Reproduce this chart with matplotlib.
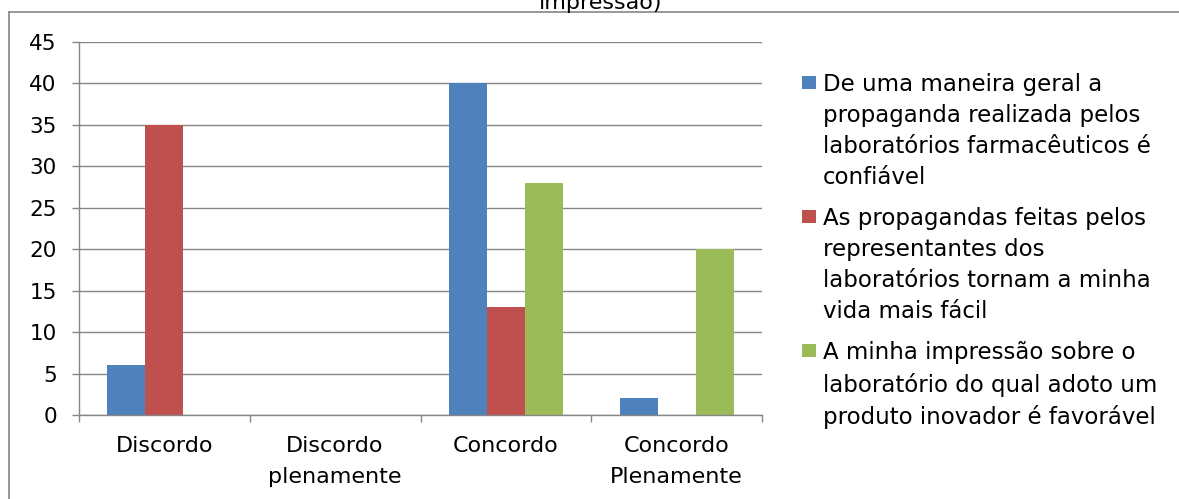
import matplotlib
matplotlib.use('Agg')
import matplotlib.pyplot as plt
import numpy as np
from matplotlib.patches import Rectangle
from matplotlib.lines import Line2D

categories = ['Discordo', 'Discordo\nplenamente', 'Concordo', 'Concordo\nPlenamente']
series_names = [
    'De uma maneira geral a\npropaganda realizada pelos\nlaboratórios farmacêuticos é\nconfiável',
    'As propagandas feitas pelos\nrepresentantes dos\nlaboratórios tornam a minha\nvida mais fácil',
    'A minha impressão sobre o\nlaboratório do qual adoto um\nproduto inovador é favorável',
]
serie_confiavel = [6, 0, 40, 2]
serie_facil = [35, 0, 13, 0]
serie_favoravel = [0, 0, 28, 20]
y_ticks = [0, 5, 10, 15, 20, 25, 30, 35, 40, 45]
title_fragment = 'impressão)'

colors = ['#4F81BD', '#C0504D', '#9BBB59']
grey = '#868686'

plt.rcParams['font.family'] = ['DejaVu Sans']

W, H = 1179, 499
fig = plt.figure(figsize=(W / 100, H / 100), dpi=100)
ax = fig.add_axes([79 / W, 1 - 415 / H, (762 - 79) / W, (415 - 42) / H])

x = np.arange(len(categories))
bw = 1 / 4.5
for i, vals in enumerate([serie_confiavel, serie_facil, serie_favoravel]):
    ax.bar(x + (i - 1) * bw, vals, bw, color=colors[i], linewidth=0, zorder=2)

ax.set_xlim(-0.5, len(categories) - 0.5)
ax.set_ylim(0, 45)
ax.set_yticks(y_ticks)
ax.set_xticks(x)
ax.set_xticklabels(categories, linespacing=1.7)
ax.set_xticks(np.arange(-0.5, len(categories), 1), minor=True)

ax.yaxis.grid(True, color=grey, linewidth=1.0, zorder=0)
ax.set_axisbelow(True)
for s in ['top', 'right']:
    ax.spines[s].set_visible(False)
for s in ['left', 'bottom']:
    ax.spines[s].set_color(grey)
    ax.spines[s].set_linewidth(1.0)

ax.tick_params(axis='y', length=5, width=1, color=grey, pad=11, labelsize=15.5)
ax.tick_params(axis='x', which='major', length=0, pad=15, labelsize=16)
ax.tick_params(axis='x', which='minor', length=5, width=1, color=grey)

# legend drawn manually (swatch aligned to first line)
baselines = [91, 225, 359]
for i, name in enumerate(series_names):
    yb = baselines[i]
    fig.add_artist(Rectangle((802 / W, 1 - (yb - 2) / H), 14 / W, 13 / H,
                             transform=fig.transFigure, color=colors[i], linewidth=0))
    fig.text(823 / W, 1 - (yb - 18) / H, name, ha='left', va='top', fontsize=16.5,
             linespacing=1.45)

# outer frame
fig.add_artist(Line2D([9.5 / W, 9.5 / W], [0, 1 - 12 / H], transform=fig.transFigure,
                      color=grey, linewidth=1.2))
fig.add_artist(Line2D([9.5 / W, 1], [1 - 12 / H, 1 - 12 / H], transform=fig.transFigure,
                      color=grey, linewidth=1.2))
fig.text(601 / W, 1 - 9 / H, title_fragment, ha='center', va='baseline', fontsize=16)

fig.savefig('out.png', dpi=100)
